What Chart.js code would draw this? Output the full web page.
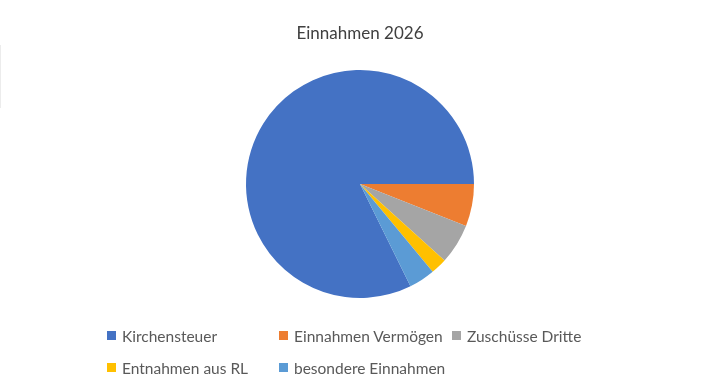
<!DOCTYPE html>
<html>
<head>
<meta charset="utf-8">
<script src="https://cdn.jsdelivr.net/npm/chart.js@4"></script>
<style>
  body { margin: 0; background: #fff; }
  #wrap { position: relative; width: 720px; height: 391px; }
  #edge { position: absolute; left: 0; top: 45px; width: 1px; height: 63px; background: #ececec; }
  #legend { position: absolute; left: 0; top: 0; width: 720px; height: 391px; pointer-events: none;
    font-family: Lato, "Liberation Sans", sans-serif; font-size: 15.5px; color: #595959; }
  .item { position: absolute; white-space: nowrap; line-height: 16px; }
  .box { position: absolute; left: 0; top: 3px; width: 9px; height: 9px; }
  .txt { position: absolute; left: 15px; top: 0; }
</style>
</head>
<body>
<div id="wrap">
  <canvas id="pieChart" width="720" height="391"></canvas>
  <div id="edge"></div>
  <div id="legend"></div>
</div>
<script>
// Data
const labels = ['Kirchensteuer', 'Einnahmen Vermögen', 'Zuschüsse Dritte', 'Entnahmen aus RL', 'besondere Einnahmen'];
const values = [82.3, 6.0, 5.7, 2.3, 3.7];
const colors = ['#4472C4', '#ED7D31', '#A5A5A5', '#FFC000', '#5B9BD5'];

// first slice ends at 3 o'clock
const total = values.reduce((a, b) => a + b, 0);
const rotation = 90 - 360 * values[0] / total;

new Chart(document.getElementById('pieChart'), {
  type: 'pie',
  data: {
    labels: labels,
    datasets: [{
      data: values,
      backgroundColor: colors,
      borderWidth: 0
    }]
  },
  options: {
    responsive: false,
    animation: false,
    rotation: rotation,
    layout: { padding: { top: 0, bottom: 93, left: 0, right: 0 } },
    plugins: {
      legend: { display: false },
      tooltip: { enabled: false },
      title: {
        display: true,
        text: 'Einnahmen 2026',
        color: '#404040',
        font: { family: 'Lato, "Liberation Sans", sans-serif', size: 17, weight: 'normal' },
        padding: { top: 23, bottom: 26.6 }
      }
    }
  }
});

// Legend (two rows, fixed columns like the original)
const legendPos = [[107, 328], [279, 328], [452, 328], [107, 360], [279, 360]];
const legend = document.getElementById('legend');
labels.forEach((label, i) => {
  const item = document.createElement('div');
  item.className = 'item';
  item.style.left = legendPos[i][0] + 'px';
  item.style.top = legendPos[i][1] + 'px';
  item.innerHTML = '<span class="box" style="background:' + colors[i] + '"></span><span class="txt">' + label + '</span>';
  legend.appendChild(item);
});
</script>
</body>
</html>
